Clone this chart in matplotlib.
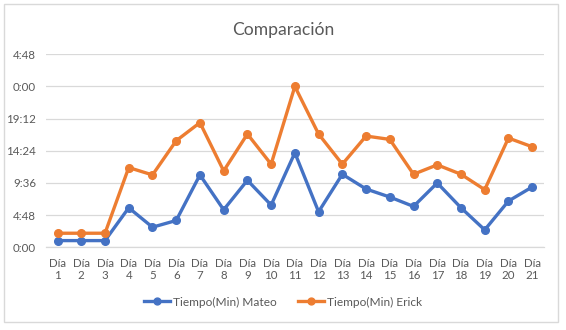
import matplotlib
matplotlib.use("Agg")
from matplotlib import pyplot as plt
from matplotlib.patches import Rectangle
from matplotlib.ticker import FuncFormatter
import numpy as np

plt.rcParams['font.family'] = ['Lato', 'DejaVu Sans']

# time values in hours (Excel h:mm display wraps at 24h)
dias = ["Día\n%d" % i for i in range(1, 22)]
mateo = [1.0, 1.0, 1.0, 5.9, 3.0, 4.0, 10.8, 5.6, 10.0, 6.3, 14.1,
         5.3, 10.9, 8.7, 7.5, 6.1, 9.6, 5.9, 2.6, 6.9, 9.0]
erick = [2.1, 2.1, 2.1, 11.9, 10.8, 15.9, 18.6, 11.4, 16.9, 12.4, 24.0,
         16.9, 12.4, 16.6, 16.1, 10.9, 12.3, 10.9, 8.6, 16.3, 15.0]
yticks = [0, 4.8, 9.6, 14.4, 19.2, 24.0, 28.8]

BLUE = '#4472C4'
ORANGE = '#ED7D31'
GRID = '#D9D9D9'
TXT = '#595959'


def hmm(v, pos):
    total = int(round(v * 60))
    h = (total // 60) % 24
    m = total % 60
    return "%d:%02d" % (h, m)


fig = plt.figure(figsize=(5.66, 3.30), dpi=100)
fig.patches.append(Rectangle((4 / 566, 1 - 322 / 330), 554 / 566, 318 / 330,
                             transform=fig.transFigure, fill=False,
                             edgecolor=GRID, linewidth=1))

ax = fig.add_axes([0.0807, 0.2506, 0.8805, 0.5849])
x = np.arange(len(dias))
ax.plot(x, mateo, color=BLUE, linewidth=2.4, marker='o', markersize=5.5,
        label='Tiempo(Min) Mateo', solid_joinstyle='round')
ax.plot(x, erick, color=ORANGE, linewidth=2.4, marker='o', markersize=5.5,
        label='Tiempo(Min) Erick', solid_joinstyle='round')

ax.set_xlim(-0.5, len(dias) - 0.5)
ax.set_ylim(0, 28.8)
ax.set_yticks(yticks)
ax.yaxis.set_major_formatter(FuncFormatter(hmm))
ax.set_xticks(x)
ax.set_xticklabels(dias, linespacing=1.1)
ax.grid(axis='y', color=GRID, linewidth=0.9)
ax.set_axisbelow(True)
for s in ['top', 'right', 'left']:
    ax.spines[s].set_visible(False)
ax.spines['bottom'].set_color(GRID)
ax.spines['bottom'].set_linewidth(0.9)
ax.tick_params(axis='both', length=0, colors=TXT, labelsize=8.3)
ax.tick_params(axis='x', pad=8)
ax.tick_params(axis='y', pad=7)

fig.text(0.5, 1 - 30 / 330, 'Comparación', ha='center', va='center',
         fontsize=12.6, color=TXT)

fig.legend(loc='center', bbox_to_anchor=(0.5, 1 - 302 / 330), ncol=2,
           frameon=False, fontsize=8.6, labelcolor=TXT, handlelength=2.2,
           handletextpad=0.2, columnspacing=1.8, markerscale=0.9)

fig.savefig('out.png', dpi=100)
